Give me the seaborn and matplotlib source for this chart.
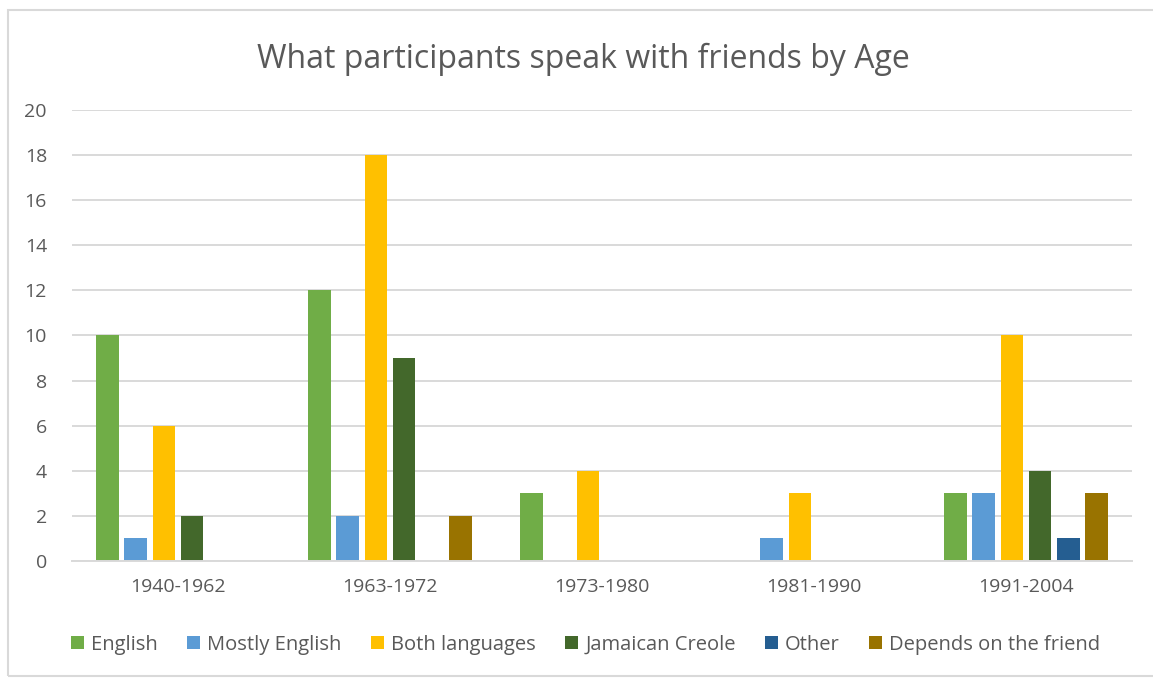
import matplotlib
matplotlib.use("Agg")
import matplotlib.pyplot as plt
from matplotlib.patches import Rectangle
import seaborn as sns
import pandas as pd

age_groups = ["1940-1962", "1963-1972", "1973-1980", "1981-1990", "1991-2004"]
english = [10, 12, 3, 0, 3]
mostly_english = [1, 2, 0, 1, 3]
both_languages = [6, 18, 4, 3, 10]
jamaican_creole = [2, 9, 0, 0, 4]
other = [0, 0, 0, 0, 1]
depends_on_friend = [0, 2, 0, 0, 3]

series_names = ["English", "Mostly English", "Both languages",
                "Jamaican Creole", "Other", "Depends on the friend"]
series_values = [english, mostly_english, both_languages,
                 jamaican_creole, other, depends_on_friend]
colors = ["#70AD47", "#5B9BD5", "#FFC000", "#43682B", "#255E91", "#997300"]

rows = []
for name, vals in zip(series_names, series_values):
    for age, v in zip(age_groups, vals):
        rows.append({"Age": age, "Language": name, "Count": v})
df = pd.DataFrame(rows)

sns.set_theme(style="white")
plt.rcParams["font.family"] = ["Open Sans", "DejaVu Sans"]

fig = plt.figure(figsize=(11.53, 6.78), dpi=100)
ax = fig.add_axes([0.0624, 0.1726, 0.9194, 0.6652])

sns.barplot(data=df, x="Age", y="Count", hue="Language",
            order=age_groups, hue_order=series_names,
            palette=colors, saturation=1, width=0.8, gap=0.2, ax=ax,
            edgecolor="none", legend=True)

ax.set_xlim(-0.5, len(age_groups) - 0.5)
ax.set_ylim(0, 20)
ax.set_yticks(range(0, 21, 2))
ax.yaxis.grid(True, color="#D9D9D9", linewidth=1.4)
ax.set_axisbelow(True)
for s in ["top", "right", "left"]:
    ax.spines[s].set_visible(False)
ax.spines["bottom"].set_color("#D9D9D9")
ax.spines["bottom"].set_linewidth(1.4)
ax.tick_params(axis="both", length=0, colors="#595959", labelsize=14)
ax.tick_params(axis="x", pad=12)
ax.tick_params(axis="y", pad=18)
ax.set_xlabel("")
ax.set_ylabel("")

handles, labels = ax.get_legend_handles_labels()
ax.legend_.remove()
fig.legend(handles, labels, loc="center", bbox_to_anchor=(0.508, 0.049),
           ncol=6, frameon=False, fontsize=14.5, handlelength=0.65,
           handleheight=0.65, handletextpad=0.35, columnspacing=1.45,
           labelcolor="#595959")

fig.text(0.506, 0.912, "What participants speak with friends by Age",
         ha="center", va="center", fontsize=23, color="#595959")

fig.patches.append(Rectangle((8 / 1153, 0.003), 1.2, 1 - 0.003 - 10 / 678,
                             transform=fig.transFigure, fill=False,
                             edgecolor="#D9D9D9", linewidth=1.5))

fig.savefig("out.png", dpi=100, facecolor="white")
